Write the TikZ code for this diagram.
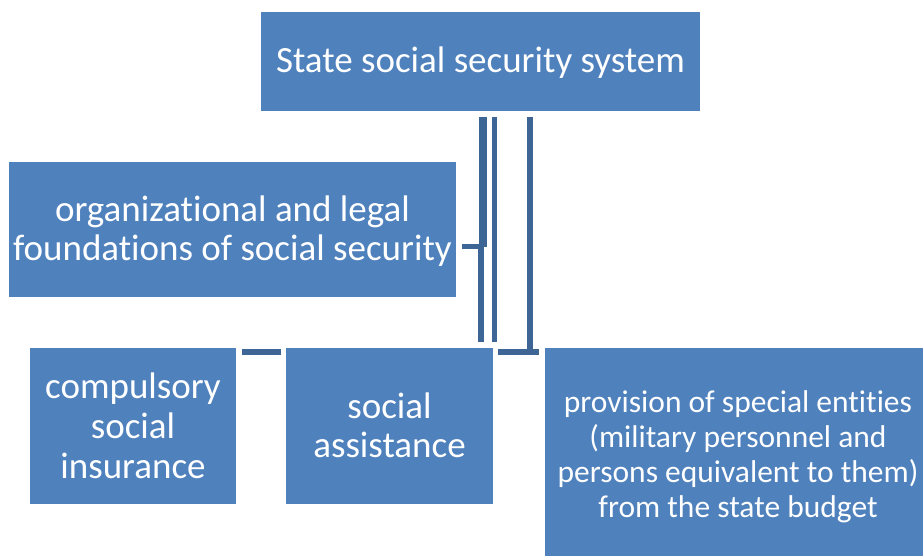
\documentclass[tikz,border=0pt]{standalone}
\usepackage{fontspec}
\setmainfont[Ligatures=NoCommon]{Carlito}
\definecolor{boxblue}{HTML}{4F81BD}
\definecolor{linkblue}{HTML}{3D6696}
\begin{document}
\begin{tikzpicture}[x=1pt,y=-1pt,
  label text/.style={text=white,align=center,inner sep=0pt},
  link/.style={draw=linkblue,line width=#1},
  link/.default=5pt]
\useasboundingbox (0,0) rectangle (923,556);
% boxes
\fill[boxblue] (261,12) rectangle (700,111);
\node[label text,font=\fontsize{37}{39}\selectfont] (top) at (480.5,63) {State social security system};
\fill[boxblue] (9,162) rectangle (456,297);
\node[label text,font=\fontsize{37}{39}\selectfont] (org) at (232.5,231.5) {organizational and legal\\foundations of social security};
\fill[boxblue] (30,348) rectangle (236,504);
\node[label text,font=\fontsize{37}{40}\selectfont] (comp) at (133,426) {compulsory\\social\\insurance};
\fill[boxblue] (286,348) rectangle (493,504);
\node[label text,font=\fontsize{37}{39}\selectfont] (assist) at (389.5,425) {social\\assistance};
\fill[boxblue] (545,348) rectangle (923,556);
\node[label text,font=\fontsize{31.5}{35}\selectfont] (prov) at (738,457) {provision of special entities\\(military personnel and\\persons equivalent to them)\\from the state budget};
% connectors
\coordinate (l1t) at (482.5,117);
\coordinate (l1m) at (482.5,247);
\coordinate (l1b) at (481,342);
\draw[link=8pt] (l1t) -- (l1m);
\draw[link=5.5pt] (481,244) -- (l1b);
\draw[link=5pt] (462,246) -- (484,246);
\draw[link=5pt] (494,117) -- (494,342);
\draw[link=5.5pt] (530,117) -- (530,351);
\draw[link=6pt] (498,351.5) -- (539,351.5);
\draw[link=6pt] (242,352) -- (281,352);
\end{tikzpicture}
\end{document}
